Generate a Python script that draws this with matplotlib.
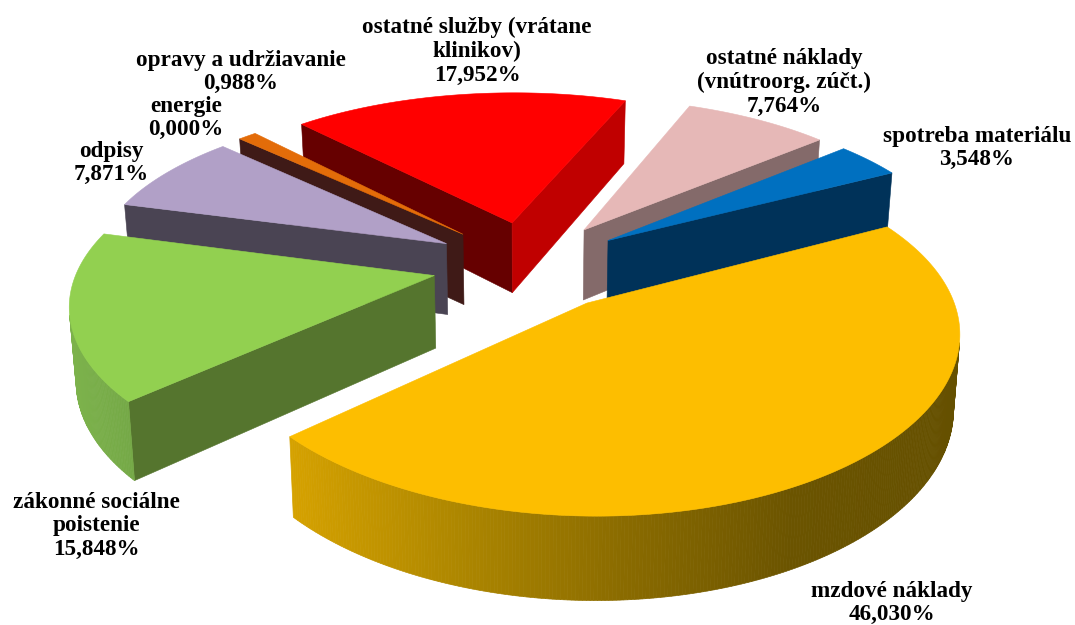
import numpy as np
import matplotlib
matplotlib.use("Agg")
import matplotlib.pyplot as plt
from matplotlib.patches import Polygon
from matplotlib.colors import to_rgb

# data (clockwise from the first slice)
categories = ["spotreba materiálu", "mzdové náklady", "zákonné sociálne\npoistenie", "odpisy",
              "energie", "opravy a udržiavanie", "ostatné služby (vrátane\nklinikov)",
              "ostatné náklady\n(vnútroorg. zúčt.)"]
values = [3.548, 46.030, 15.848, 7.871, 0.000, 0.988, 17.952, 7.764]

# styles
top_colors = ["#0070C0", "#FDBE00", "#92D050", "#B1A0C7", "#7F7F7F", "#E36C09", "#FF0000", "#E6B8B7"]
start_wall = ["#003259", "#7F6000", "#55752E", "#4A4453", "#333333", "#3F1A17", "#660000", "#846A6A"]
end_wall = ["#003259", "#7F6000", "#55752E", "#4A4453", "#333333", "#7F4A00", "#C00000", "#846A6A"]
outer_stops = [["#00508A", "#00508A"], ["#D6A200", "#AE8700", "#8A6B00", "#6B5400", "#655000"],
               ["#7DB34C", "#74A846"], ["#6A6077", "#6A6077"], ["#555555", "#555555"],
               ["#A04C06", "#A04C06"], ["#990000", "#990000"], ["#A08080", "#A08080"]]
label_pos = [(977, 148), (892, 603), (96, 526), (111, 163), (186, 118), (241, 72), (477, 51), (784, 82)]

START, R, K, P = 49.5, 352.0, 0.466, 0.164
XS, PX = 1.01, 0.145
CX, CY, EXPLODE, H, PH, CONV = 529.5, 265.0, 96.0, 72.0, 0.12, 0.015

fig = plt.figure(figsize=(10.75, 6.25), dpi=100)
ax = fig.add_axes([0, 0, 1, 1])
ax.set_xlim(0, 1075)
ax.set_ylim(625, 0)
ax.axis("off")


def proj(X, Y):
    return CX + XS * X / (1.0 + PX * Y / R), CY - K * Y / (1.0 + P * Y / R)


def down(X, Y):
    x, y = proj(X, Y)
    h = H / (1.0 + PH * Y / R)
    return x + (CX - x) * CONV, y + h


def signed(pts):
    pts = np.asarray(pts)
    x, y = pts[:, 0], pts[:, 1]
    return np.sum(x * np.roll(y, -1) - np.roll(x, -1) * y)


def stop_color(stops, t):
    rgb = np.array([to_rgb(c) for c in stops])
    pos = np.linspace(0, 1, len(stops))
    return tuple(np.interp(np.clip(t, 0, 1), pos, rgb[:, i]) for i in range(3))


total = sum(values)
spans = np.array(values) / total * 360.0
starts = START + np.concatenate([[0], np.cumsum(spans)[:-1]])
mids = starts + spans / 2
order = np.argsort(-np.cos(np.radians(mids)))

for i in order:
    if values[i] <= 0:
        continue
    m = np.radians(mids[i])
    ax0, ay0 = EXPLODE * np.sin(m), EXPLODE * np.cos(m)
    ang = np.radians(np.linspace(starts[i], starts[i] + spans[i], max(4, int(spans[i] * 2))))
    wx = ax0 + R * np.sin(ang)
    wy = ay0 + R * np.cos(ang)
    apex_t, apex_b = proj(ax0, ay0), down(ax0, ay0)
    top = [proj(a, b) for a, b in zip(wx, wy)]
    bot = [down(a, b) for a, b in zip(wx, wy)]

    # radial cut walls
    q = [apex_t, top[0], bot[0], apex_b]
    if signed(q) < 0:
        ax.add_patch(Polygon(q, closed=True, fc=start_wall[i], ec=start_wall[i], lw=0.4))
    q = [top[-1], apex_t, apex_b, bot[-1]]
    if signed(q) < 0:
        ax.add_patch(Polygon(q, closed=True, fc=end_wall[i], ec=end_wall[i], lw=0.4))

    # outer wall, split in strips for the gradient
    quads = [[top[j], top[j + 1], bot[j + 1], bot[j]] for j in range(len(top) - 1)]
    vis = [qq for qq in quads if signed(qq) < 0]
    if vis:
        lo = min(min(p[0] for p in qq) for qq in vis)
        hi = max(max(p[0] for p in qq) for qq in vis)
        for qq in vis:
            xm = np.mean([p[0] for p in qq])
            c = stop_color(outer_stops[i], (xm - lo) / max(hi - lo, 1))
            ax.add_patch(Polygon(qq, closed=True, fc=c, ec=c, lw=0.5))

    # top face
    ax.add_patch(Polygon([apex_t] + top, closed=True, fc=top_colors[i], ec=top_colors[i], lw=0.4))

for name, val, (x, y) in zip(categories, values, label_pos):
    pct = f"{val:.3f}%".replace(".", ",")
    ax.text(x, y, f"{name}\n{pct}", ha="center", va="center", family="Liberation Serif", weight="bold",
            fontsize=16.7, linespacing=1.18, color="black")

fig.savefig("out.png", dpi=100)
